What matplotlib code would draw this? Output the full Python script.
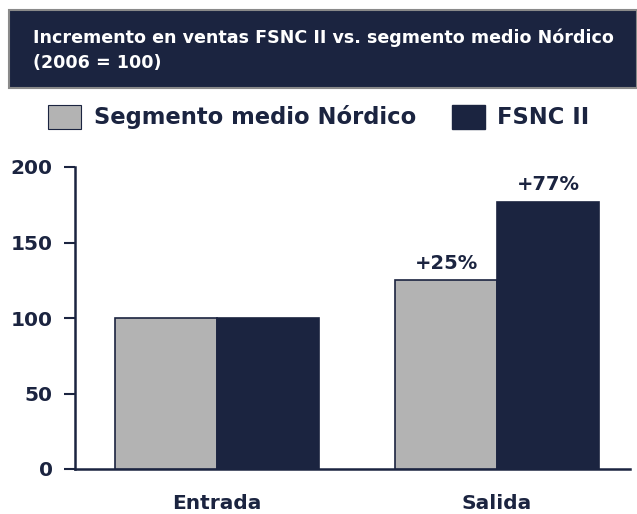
import matplotlib
matplotlib.use("Agg")
import matplotlib.pyplot as plt
import matplotlib.patches as mpatches
import numpy as np

# ── Palette ──
NAVY = "#1b2440"
GRAY = "#b3b3b3"
BORDER = "#8a8a8a"

# ── Data ──
categories = ["Entrada", "Salida"]
segmento = [100, 125]
fsnc = [100, 177]
labels_fsnc = ["", "+77%"]
labels_seg = ["", "+25%"]
series_names = ["Segmento medio Nórdico", "FSNC II"]
yticks = [0, 50, 100, 150, 200]

plt.rcParams["font.family"] = ["DejaVu Sans"]

fig = plt.figure(figsize=(6.37, 5.14), dpi=100)
ax = fig.add_axes([75 / 637, 45 / 514, 555 / 637, 302 / 514])

x = np.arange(len(categories))
w = 0.364
ax.bar(x - w / 2, segmento, w, color=GRAY, edgecolor=NAVY, linewidth=1.2, zorder=3)
ax.bar(x + w / 2, fsnc, w, color=NAVY, edgecolor=NAVY, linewidth=1.2, zorder=3)

for i in range(len(categories)):
    if labels_seg[i]:
        ax.text(x[i] - w / 2, segmento[i] + 5, labels_seg[i], ha="center", va="bottom",
                fontsize=14, fontweight="bold", color=NAVY)
    if labels_fsnc[i]:
        ax.text(x[i] + w / 2, fsnc[i] + 5, labels_fsnc[i], ha="center", va="bottom",
                fontsize=14, fontweight="bold", color=NAVY)

ax.set_xlim(-0.507, 1.475)
ax.set_ylim(0, 200)
ax.set_yticks(yticks)
ax.set_yticklabels([str(t) for t in yticks], fontsize=14.5, fontweight="bold", color=NAVY)
ax.set_xticks(x)
ax.set_xticklabels(categories, fontsize=14.5, fontweight="bold", color=NAVY)
ax.tick_params(axis="x", length=0, pad=18)
ax.tick_params(axis="y", length=8, width=1.5, color=NAVY, pad=8)
for s in ["top", "right"]:
    ax.spines[s].set_visible(False)
for s in ["left", "bottom"]:
    ax.spines[s].set_color(NAVY)
    ax.spines[s].set_linewidth(1.8)

# Title box
fig.patches.append(mpatches.Rectangle((9 / 637, 1 - 88 / 514), 628 / 637, 78 / 514,
                                      transform=fig.transFigure, facecolor=NAVY,
                                      edgecolor=BORDER, linewidth=1.5))
fig.text(33 / 637, 1 - 38 / 514, "Incremento en ventas FSNC II vs. segmento medio Nórdico",
         fontsize=12.6, fontweight="semibold", color="white", va="center", ha="left")
fig.text(33 / 637, 1 - 63 / 514, "(2006 = 100)",
         fontsize=12.6, fontweight="semibold", color="white", va="center", ha="left")

# Legend
handles = [mpatches.Patch(facecolor=GRAY, edgecolor=NAVY, linewidth=0.8),
           mpatches.Patch(facecolor=NAVY, edgecolor=NAVY)]
fig.legend(handles, series_names, loc="center", bbox_to_anchor=(319 / 637, 1 - 117 / 514),
           ncol=2, frameon=False, handlelength=1.45, handleheight=1.3,
           columnspacing=1.6, handletextpad=0.55, labelcolor=NAVY,
           prop={"weight": "bold", "size": 16.3})

fig.savefig("out.png", dpi=100)
